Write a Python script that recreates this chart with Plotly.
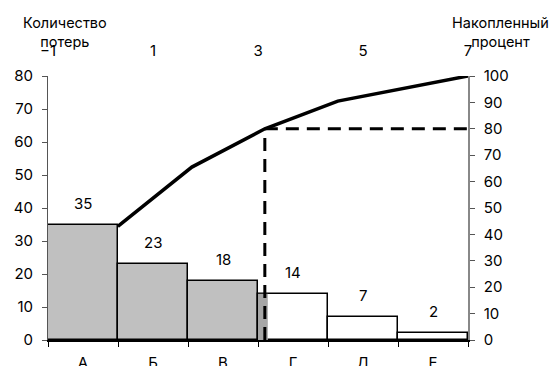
import plotly.graph_objects as go

categories = ["А", "Б", "В", "Г", "Д", "Е"]
losses = [35, 23, 18, 14, 7, 2]
bar_colors = ["#c0c0c0", "#c0c0c0", "#c0c0c0", "#ffffff", "#ffffff", "#ffffff"]

# cumulative percent line (top axis x, right axis y)
cum_x = [0.33, 1.74, 3.13, 4.52, 7.0]
cum_pct = [43, 65.5, 80, 90.5, 100]

top_ticks = [-1, 1, 3, 5, 7]
threshold_pct = 80
threshold_x = 3.13
split_idx = 3          # category Г partly shaded
split_pos = 2.64       # position of the split on the bottom axis

FONT = "Inter"
W, H = 555, 366
l, r, t, b = 48, 87, 75.5, 25.5
pw, ph = W - l - r, H - t - b

fig = go.Figure()
fig.add_trace(go.Bar(
    x=categories, y=losses, width=1.0,
    marker=dict(color=bar_colors, line=dict(color="black", width=1.5)),
    showlegend=False, hoverinfo="skip",
))
fig.add_trace(go.Scatter(
    x=cum_x, y=cum_pct, xaxis="x2", yaxis="y2", mode="lines",
    line=dict(color="black", width=3.5), showlegend=False, hoverinfo="skip",
))

# value labels
for i, v in enumerate(losses):
    fig.add_annotation(x=i, y=v, text=str(v), showarrow=False, yanchor="bottom",
                       yshift=10, font=dict(size=15, color="black", family=FONT))

# shaded sliver of bar Г
fig.add_shape(type="rect", xref="x", yref="y", x0=split_idx - 0.5, x1=split_pos,
              y0=0, y1=losses[split_idx], fillcolor="#a6a6a6", line=dict(width=0), layer="above")
# dashed 80% guide lines
dash_line = dict(color="black", width=3, dash="13px,8px")
fig.add_shape(type="line", xref="x2", yref="y2", x0=threshold_x, x1=threshold_x, y0=0, y1=threshold_pct,
              line=dash_line, layer="above")
fig.add_shape(type="line", xref="x2", yref="y2", x0=threshold_x, x1=7, y0=threshold_pct, y1=threshold_pct,
              line=dash_line, layer="above")


def px(xp, yp):
    return (xp - l) / pw, 1 - (yp - t) / ph


for txt, xp in [("Количество<br>потерь", 65), ("Накопленный<br>процент", 500)]:
    ax, ay = px(xp, 31)
    fig.add_annotation(x=ax, y=ay, xref="paper", yref="paper", text=txt, showarrow=False,
                       align="center", xanchor="center", yanchor="middle",
                       font=dict(size=14.5, family=FONT, color="black"))

fig.update_layout(
    width=W, height=H,
    margin=dict(l=l, r=r, t=t, b=b, autoexpand=False),
    paper_bgcolor="white", plot_bgcolor="white",
    font=dict(family=FONT, size=15, color="black"),
    barmode="overlay", bargap=0,
    xaxis=dict(type="category", range=[-0.5, 5.5], showgrid=False, showline=True, automargin=False,
               linecolor="black", linewidth=1.5, ticks="outside", ticklen=5, tickcolor="black",
               tickson="boundaries", ticklabelstandoff=8, zeroline=False),
    xaxis2=dict(overlaying="x", side="top", range=[-1, 7], tickvals=top_ticks, automargin=False,
                showgrid=False, showline=False, ticks="", ticklabelstandoff=16, zeroline=False),
    yaxis=dict(range=[0, 80], dtick=10, showgrid=False, showline=True, linecolor="#555", automargin=False,
               linewidth=1, ticks="outside", ticklen=5, tickcolor="#555", zeroline=False,
               ticklabelstandoff=6),
    yaxis2=dict(overlaying="y", side="right", anchor="x", range=[0, 100], dtick=10, showgrid=False,
                showline=True, linecolor="#888", linewidth=1.5, ticks="outside", ticklen=5, automargin=False,
                tickcolor="#555", zeroline=False, ticklabelstandoff=6),
)

fig.write_html("out.html", config={"displayModeBar": False},
               post_script="document.body.style.margin='0';document.body.style.overflow='hidden';")
